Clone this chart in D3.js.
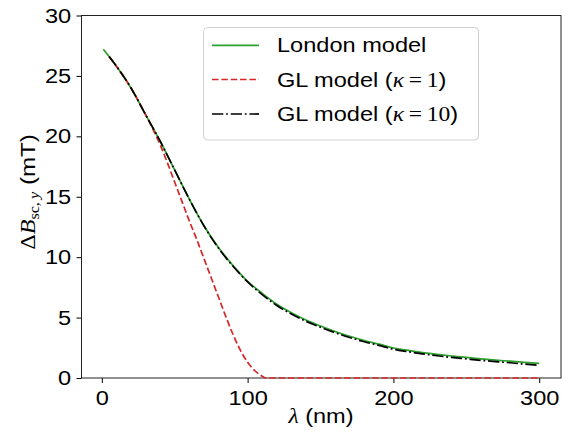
<!DOCTYPE html>
<meta charset="utf-8">
<style>
body { margin: 0; background: #fff; }
svg { font-family: "Liberation Sans", Arial, sans-serif; }
.tick text { font-size: 20.5px; fill: #000; }
.tick line { stroke: #000; }
.math { font-family: "Liberation Serif", "DejaVu Serif", serif; }
</style>
<svg width="570" height="434"></svg>
<script src="https://cdn.jsdelivr.net/npm/d3@7"></script>
<script>

// London model
var lamLondon = [1, 10, 20, 30, 40, 50, 60, 70, 80, 90, 100, 110, 120, 130, 140, 150,
                 160, 170, 180, 190, 200, 210, 220, 230, 240, 250, 260, 270, 280, 290, 300];
var bLondon = [27.2, 25.8, 24.0, 21.8, 19.6, 17.2, 14.8, 12.6, 10.8, 9.3, 8.0, 7.0, 6.1, 5.4, 4.8, 4.3,
               3.85, 3.45, 3.1, 2.8, 2.48, 2.28, 2.1, 1.95, 1.82, 1.7, 1.58, 1.48, 1.39, 1.3, 1.21];

// GL model, kappa = 1
var lamK1 = [5, 10, 20, 30, 35, 40, 45, 50, 55, 60, 65, 70, 75, 80, 85, 90, 95, 100, 105, 110, 113, 150, 200, 250, 300];
var bK1 = [26.6, 25.8, 24.0, 21.8, 20.6, 19.3, 17.8, 16.2, 14.6, 13.0, 11.5, 9.9, 8.3, 6.7, 5.1, 3.6, 2.3, 1.3, 0.6, 0.15, 0, 0, 0, 0, 0];

// GL model, kappa = 10
var lamK10 = [5, 10, 20, 30, 40, 50, 60, 70, 80, 90, 100, 110, 120, 130, 140, 150,
              160, 170, 180, 190, 200, 210, 220, 230, 240, 250, 260, 270, 280, 290, 300];
var bK10 = [26.6, 25.8, 24.0, 21.8, 19.6, 17.2, 14.8, 12.6, 10.75, 9.25, 7.95, 6.9, 6.0, 5.3, 4.7, 4.2,
            3.75, 3.35, 3.0, 2.7, 2.38, 2.18, 2.0, 1.84, 1.7, 1.58, 1.46, 1.36, 1.26, 1.15, 1.05];

var xTicks = [0, 100, 200, 300];
var yTicks = [0, 5, 10, 15, 20, 25, 30];

var svg = d3.select("svg");
var mLeft = 81.5, mRight = 561, mTop = 15.5, mBottom = 378;
var wide = "scale(1.15,1)"; // glyphs in the picture are a bit wider than Arial

var x = d3.scaleLinear().domain([-13.95, 314.95]).range([mLeft, mRight]);
var y = d3.scaleLinear().domain([0, 30]).range([mBottom, mTop]);

var line = d3.line()
    .x(function(d) { return x(d[0]); })
    .y(function(d) { return y(d[1]); })
    .curve(d3.curveMonotoneX);

function pairs(xs, ys) { return xs.map(function(v, i) { return [v, ys[i]]; }); }

var series = [
  {data: pairs(lamLondon, bLondon), color: "#2ca02c", dash: null, k: null},
  {data: pairs(lamK1, bK1), color: "#d62728", dash: "6.5,2.85", k: "1"},
  {data: pairs(lamK10, bK10), color: "#000", dash: "11.3,2.8,1.8,2.8", k: "10"}
];

// axes
var xAxis = svg.append("g")
    .attr("transform", "translate(0," + mBottom + ")")
    .call(d3.axisBottom(x).tickValues(xTicks).tickSize(5).tickPadding(7).tickSizeOuter(0));
var yAxis = svg.append("g")
    .attr("transform", "translate(" + mLeft + ",0)")
    .call(d3.axisLeft(y).tickValues(yTicks).tickSize(5).tickPadding(4).tickSizeOuter(0));
xAxis.select(".domain").remove();
yAxis.select(".domain").remove();
svg.selectAll(".tick line").attr("stroke-width", 1);
svg.selectAll(".tick text").attr("transform", wide);

// frame
svg.append("rect")
    .attr("x", mLeft).attr("y", mTop)
    .attr("width", mRight - mLeft).attr("height", mBottom - mTop)
    .attr("fill", "none").attr("stroke", "#222").attr("stroke-width", 1);

svg.selectAll("path.series")
    .data(series)
  .enter().append("path")
    .attr("class", "series")
    .attr("fill", "none")
    .attr("stroke", function(d) { return d.color; })
    .attr("stroke-width", 1.7)
    .attr("stroke-dasharray", function(d) { return d.dash; })
    .attr("d", function(d) { return line(d.data); });

// legend
var lg = svg.append("g");
lg.append("rect")
    .attr("x", 203.5).attr("y", 27.5).attr("width", 275).attr("height", 112.5)
    .attr("rx", 4).attr("fill", "#fff").attr("fill-opacity", 0.8)
    .attr("stroke", "#d0d0d0").attr("stroke-width", 1);

var rows = [52.3, 86.5, 121];
series.forEach(function(s, i) {
  lg.append("line")
      .attr("x1", 212).attr("x2", 259)
      .attr("y1", rows[i] - 7).attr("y2", rows[i] - 7)
      .attr("stroke", s.color).attr("stroke-width", 1.7)
      .attr("stroke-dasharray", s.dash);
  var t = lg.append("g").attr("transform", "translate(277," + rows[i] + ")")
    .append("text").attr("transform", wide).attr("font-size", 20.5);
  if (!s.k) {
    t.text("London model");
  } else {
    t.append("tspan").text("GL model (");
    t.append("tspan").attr("class", "math").attr("font-style", "italic").text("\u03ba");
    t.append("tspan").attr("class", "math").text("\u2009=\u2009" + s.k);
    t.append("tspan").text(")");
  }
});

// x label
var xl = svg.append("g").attr("transform", "translate(321,423)")
  .append("text").attr("transform", wide)
    .attr("text-anchor", "middle").attr("font-size", 20.5);
xl.append("tspan").attr("class", "math").attr("font-style", "italic").text("\u03bb");
xl.append("tspan").text(" (nm)");

// y label
var yl = svg.append("text")
    .attr("transform", "translate(34.5,192) rotate(-90) " + wide)
    .attr("text-anchor", "middle").attr("font-size", 21);
yl.append("tspan").attr("class", "math").text("\u0394");
yl.append("tspan").attr("class", "math").attr("font-style", "italic").text("B");
yl.append("tspan").attr("class", "math").attr("font-size", 14).attr("dy", 4).text("sc,\u2009");
yl.append("tspan").attr("class", "math").attr("font-size", 14).attr("font-style", "italic").text("y");
yl.append("tspan").attr("dy", -4).text(" (mT)");

</script>
